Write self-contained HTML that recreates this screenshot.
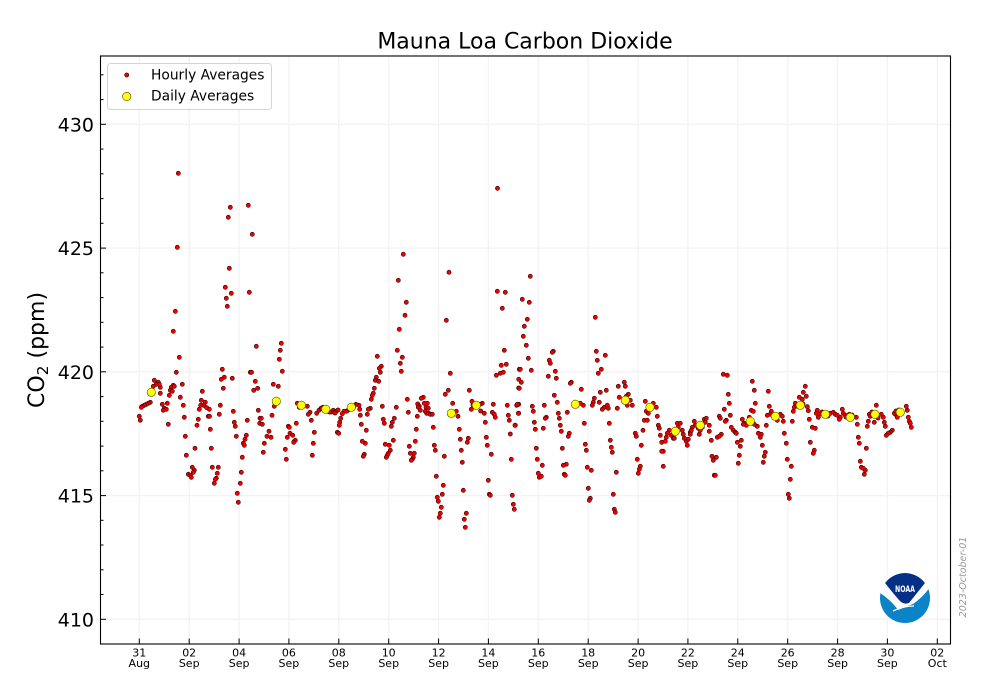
<!DOCTYPE html>
<html><head><meta charset="utf-8"><style>
html,body{margin:0;padding:0;background:#fff;}
svg{display:block;font-family:"DejaVu Sans","Liberation Sans",sans-serif;}
</style></head><body>
<svg width="1000" height="700" viewBox="0 0 1000 700" xmlns="http://www.w3.org/2000/svg">
<rect width="1000" height="700" fill="#fff"/>
<!-- grid -->
<g stroke="#f3f3f3" stroke-width="1.3">
<line x1="139.3" y1="56" x2="139.3" y2="644"/><line x1="189.2" y1="56" x2="189.2" y2="644"/><line x1="239.1" y1="56" x2="239.1" y2="644"/><line x1="288.9" y1="56" x2="288.9" y2="644"/><line x1="338.8" y1="56" x2="338.8" y2="644"/><line x1="388.7" y1="56" x2="388.7" y2="644"/><line x1="438.6" y1="56" x2="438.6" y2="644"/><line x1="488.4" y1="56" x2="488.4" y2="644"/><line x1="538.3" y1="56" x2="538.3" y2="644"/><line x1="588.2" y1="56" x2="588.2" y2="644"/><line x1="638.1" y1="56" x2="638.1" y2="644"/><line x1="687.9" y1="56" x2="687.9" y2="644"/><line x1="737.8" y1="56" x2="737.8" y2="644"/><line x1="787.7" y1="56" x2="787.7" y2="644"/><line x1="837.6" y1="56" x2="837.6" y2="644"/><line x1="887.4" y1="56" x2="887.4" y2="644"/><line x1="937.3" y1="56" x2="937.3" y2="644"/>
<line x1="100" y1="619.3" x2="950" y2="619.3"/><line x1="100" y1="495.6" x2="950" y2="495.6"/><line x1="100" y1="371.8" x2="950" y2="371.8"/><line x1="100" y1="248.1" x2="950" y2="248.1"/><line x1="100" y1="124.3" x2="950" y2="124.3"/>
</g>
<!-- NOAA logo -->
<defs><clipPath id="lc"><circle cx="905" cy="598" r="25"/></clipPath></defs>
<g clip-path="url(#lc)">
<circle cx="905" cy="598" r="25" fill="#fff"/>
<path d="M879,592 Q892,601 898,610 Q905,607 913,604 Q922,598 931,586 L931,626 L879,626 Z" fill="#0a84c6"/>
<path d="M885,583 A25,25 0 0 1 925,583 Q917,593 909,603 Q903,605 899,600 Q892,592 885,583 Z" fill="#062f86"/>
<path d="M893,611 Q903,606 914,606" stroke="#fff" stroke-width="1.3" fill="none"/>
</g>
<text x="905" y="592" font-size="8.5" font-weight="bold" fill="#fff" text-anchor="middle" textLength="20" lengthAdjust="spacingAndGlyphs">NOAA</text>
<!-- hourly -->
<g fill="#ee0000" stroke="#3a0000" stroke-width="0.6">
<circle cx="178.3" cy="173.3" r="2.1"/><circle cx="230.3" cy="207.3" r="2.1"/><circle cx="248.3" cy="205.3" r="2.1"/><circle cx="228.3" cy="217.3" r="2.1"/><circle cx="252.3" cy="234.3" r="2.1"/><circle cx="177.3" cy="247.3" r="2.1"/><circle cx="229.3" cy="268.3" r="2.1"/><circle cx="225.3" cy="287.3" r="2.1"/><circle cx="231.3" cy="293.3" r="2.1"/><circle cx="249.3" cy="292.3" r="2.1"/><circle cx="226.3" cy="298.3" r="2.1"/><circle cx="227.3" cy="306.3" r="2.1"/><circle cx="175.3" cy="311.3" r="2.1"/><circle cx="173.3" cy="331.3" r="2.1"/><circle cx="256.3" cy="346.3" r="2.1"/><circle cx="281.3" cy="343.3" r="2.1"/><circle cx="280.3" cy="350.3" r="2.1"/><circle cx="279.3" cy="359.3" r="2.1"/><circle cx="179.3" cy="357.3" r="2.1"/><circle cx="282.3" cy="371.3" r="2.1"/><circle cx="176.3" cy="372.3" r="2.1"/><circle cx="222.3" cy="369.3" r="2.1"/><circle cx="250.3" cy="372.3" r="2.1"/><circle cx="251.5" cy="372.3" r="2.1"/><circle cx="224.3" cy="377.3" r="2.1"/><circle cx="221.3" cy="379.3" r="2.1"/><circle cx="232.3" cy="378.3" r="2.1"/><circle cx="255.3" cy="381.3" r="2.1"/><circle cx="154.3" cy="380.3" r="2.1"/><circle cx="158.3" cy="382.3" r="2.1"/><circle cx="156.3" cy="384.3" r="2.1"/><circle cx="153.3" cy="386.3" r="2.1"/><circle cx="160.3" cy="387.3" r="2.1"/><circle cx="159.3" cy="384.3" r="2.1"/><circle cx="173.3" cy="385.3" r="2.1"/><circle cx="171.3" cy="387.3" r="2.1"/><circle cx="170.3" cy="390.3" r="2.1"/><circle cx="172.3" cy="391.3" r="2.1"/><circle cx="174.3" cy="386.3" r="2.1"/><circle cx="182.3" cy="384.3" r="2.1"/><circle cx="160.3" cy="393.3" r="2.1"/><circle cx="169.3" cy="395.3" r="2.1"/><circle cx="180.3" cy="397.3" r="2.1"/><circle cx="202.3" cy="391.3" r="2.1"/><circle cx="223.3" cy="388.3" r="2.1"/><circle cx="257.7" cy="388.3" r="2.1"/><circle cx="253.7" cy="390.3" r="2.1"/><circle cx="273.3" cy="384.3" r="2.1"/><circle cx="278.3" cy="386.3" r="2.1"/><circle cx="150.3" cy="402.3" r="2.1"/><circle cx="148.3" cy="403.3" r="2.1"/><circle cx="146.3" cy="404.3" r="2.1"/><circle cx="144.3" cy="405.3" r="2.1"/><circle cx="142.3" cy="406.3" r="2.1"/><circle cx="141.3" cy="407.3" r="2.1"/><circle cx="162.3" cy="404.3" r="2.1"/><circle cx="167.3" cy="403.3" r="2.1"/><circle cx="164.3" cy="408.3" r="2.1"/><circle cx="166.3" cy="409.3" r="2.1"/><circle cx="163.3" cy="410.3" r="2.1"/><circle cx="183.3" cy="405.3" r="2.1"/><circle cx="201.3" cy="400.3" r="2.1"/><circle cx="205.3" cy="402.3" r="2.1"/><circle cx="203.7" cy="405.3" r="2.1"/><circle cx="200.7" cy="405.3" r="2.1"/><circle cx="206.7" cy="407.7" r="2.1"/><circle cx="209.3" cy="409.3" r="2.1"/><circle cx="199.3" cy="409.3" r="2.1"/><circle cx="220.3" cy="405.3" r="2.1"/><circle cx="233.3" cy="411.3" r="2.1"/><circle cx="219.3" cy="414.3" r="2.1"/><circle cx="208.3" cy="416.3" r="2.1"/><circle cx="209.5" cy="416.3" r="2.1"/><circle cx="258.3" cy="410.3" r="2.1"/><circle cx="272" cy="415.3" r="2.1"/><circle cx="274.3" cy="406.3" r="2.1"/><circle cx="297.3" cy="403.3" r="2.1"/><circle cx="301.3" cy="404.3" r="2.1"/><circle cx="307.3" cy="406.3" r="2.1"/><circle cx="299.3" cy="407.3" r="2.1"/><circle cx="310" cy="412.3" r="2.1"/><circle cx="308.3" cy="414.3" r="2.1"/><circle cx="316.7" cy="413.3" r="2.1"/><circle cx="319" cy="410.3" r="2.1"/><circle cx="321" cy="408.3" r="2.1"/><circle cx="323" cy="407.3" r="2.1"/><circle cx="139.3" cy="416.3" r="2.1"/><circle cx="140.3" cy="420.3" r="2.1"/><circle cx="184.3" cy="417.3" r="2.1"/><circle cx="198.3" cy="419.3" r="2.1"/><circle cx="168.3" cy="424.3" r="2.1"/><circle cx="197" cy="425.3" r="2.1"/><circle cx="210.3" cy="429.3" r="2.1"/><circle cx="234.3" cy="422.3" r="2.1"/><circle cx="235.3" cy="426.3" r="2.1"/><circle cx="247.3" cy="420.3" r="2.1"/><circle cx="260" cy="418.3" r="2.1"/><circle cx="261.3" cy="418.3" r="2.1"/><circle cx="259.7" cy="423.3" r="2.1"/><circle cx="262.3" cy="424.3" r="2.1"/><circle cx="296.3" cy="423.3" r="2.1"/><circle cx="288.3" cy="426.3" r="2.1"/><circle cx="289.3" cy="427.3" r="2.1"/><circle cx="311.3" cy="420.3" r="2.1"/><circle cx="314.3" cy="432.3" r="2.1"/><circle cx="185.3" cy="436.3" r="2.1"/><circle cx="236.3" cy="436.3" r="2.1"/><circle cx="246.3" cy="435.3" r="2.1"/><circle cx="245" cy="439.3" r="2.1"/><circle cx="243.3" cy="443.3" r="2.1"/><circle cx="244.3" cy="445.3" r="2.1"/><circle cx="269" cy="431.3" r="2.1"/><circle cx="267" cy="436.3" r="2.1"/><circle cx="271" cy="437.3" r="2.1"/><circle cx="264.3" cy="443.3" r="2.1"/><circle cx="290" cy="433.3" r="2.1"/><circle cx="287.3" cy="437.3" r="2.1"/><circle cx="292.7" cy="435.3" r="2.1"/><circle cx="294.3" cy="441.3" r="2.1"/><circle cx="295.3" cy="440.3" r="2.1"/><circle cx="293.7" cy="442.3" r="2.1"/><circle cx="313.3" cy="443.3" r="2.1"/><circle cx="195" cy="448.3" r="2.1"/><circle cx="211.3" cy="448.3" r="2.1"/><circle cx="285.3" cy="449.3" r="2.1"/><circle cx="263.3" cy="452.3" r="2.1"/><circle cx="186.3" cy="455.3" r="2.1"/><circle cx="242.3" cy="457.3" r="2.1"/><circle cx="312.3" cy="455.3" r="2.1"/><circle cx="286.3" cy="459.3" r="2.1"/><circle cx="192.3" cy="467.3" r="2.1"/><circle cx="194.3" cy="470.3" r="2.1"/><circle cx="212.3" cy="467.3" r="2.1"/><circle cx="218.3" cy="467.3" r="2.1"/><circle cx="188.3" cy="474.3" r="2.1"/><circle cx="190.3" cy="475.3" r="2.1"/><circle cx="193.3" cy="472.3" r="2.1"/><circle cx="191.3" cy="477.3" r="2.1"/><circle cx="217.3" cy="473.3" r="2.1"/><circle cx="216.3" cy="478.3" r="2.1"/><circle cx="215.3" cy="479.3" r="2.1"/><circle cx="214.3" cy="483.3" r="2.1"/><circle cx="241.3" cy="472.3" r="2.1"/><circle cx="240.3" cy="483.3" r="2.1"/><circle cx="237.3" cy="493.3" r="2.1"/><circle cx="238.3" cy="502.3" r="2.1"/>
<circle cx="403.3" cy="254.3" r="2.1"/><circle cx="449" cy="272.3" r="2.1"/><circle cx="398.3" cy="280.3" r="2.1"/><circle cx="497.3" cy="291.3" r="2.1"/><circle cx="505.3" cy="292.3" r="2.1"/><circle cx="502.3" cy="308.3" r="2.1"/><circle cx="406.3" cy="302.3" r="2.1"/><circle cx="405" cy="315.3" r="2.1"/><circle cx="446.3" cy="320.3" r="2.1"/><circle cx="399.3" cy="329.3" r="2.1"/><circle cx="397.3" cy="350.3" r="2.1"/><circle cx="504.3" cy="350.3" r="2.1"/><circle cx="377.3" cy="356.3" r="2.1"/><circle cx="402.3" cy="357.3" r="2.1"/><circle cx="400.3" cy="363.3" r="2.1"/><circle cx="381.3" cy="366.3" r="2.1"/><circle cx="379.3" cy="368.3" r="2.1"/><circle cx="401.3" cy="371.3" r="2.1"/><circle cx="380.3" cy="372.3" r="2.1"/><circle cx="501.3" cy="365.3" r="2.1"/><circle cx="506.3" cy="364.3" r="2.1"/><circle cx="500.3" cy="373.3" r="2.1"/><circle cx="503.3" cy="372.3" r="2.1"/><circle cx="496.3" cy="375.3" r="2.1"/><circle cx="519.3" cy="369.3" r="2.1"/><circle cx="450.3" cy="373.3" r="2.1"/><circle cx="376.3" cy="377.3" r="2.1"/><circle cx="375.3" cy="380.3" r="2.1"/><circle cx="378.7" cy="381.3" r="2.1"/><circle cx="518.7" cy="379.3" r="2.1"/><circle cx="374.3" cy="388.3" r="2.1"/><circle cx="373.3" cy="393.3" r="2.1"/><circle cx="372.3" cy="395.3" r="2.1"/><circle cx="371.3" cy="399.3" r="2.1"/><circle cx="448.3" cy="390.3" r="2.1"/><circle cx="445.3" cy="394.3" r="2.1"/><circle cx="469.3" cy="390.3" r="2.1"/><circle cx="518.7" cy="388" r="2.1"/><circle cx="423.3" cy="397.3" r="2.1"/><circle cx="421.3" cy="398.3" r="2.1"/><circle cx="407.3" cy="399.3" r="2.1"/><circle cx="452.7" cy="403.3" r="2.1"/><circle cx="472" cy="401.3" r="2.1"/><circle cx="473" cy="405" r="2.1"/><circle cx="482.3" cy="403.3" r="2.1"/><circle cx="480" cy="404.3" r="2.1"/><circle cx="493.3" cy="404.3" r="2.1"/><circle cx="507.3" cy="405.3" r="2.1"/><circle cx="516.7" cy="405.3" r="2.1"/><circle cx="518.7" cy="404.3" r="2.1"/><circle cx="359" cy="405.3" r="2.1"/><circle cx="356" cy="404.3" r="2.1"/><circle cx="354" cy="406.3" r="2.1"/><circle cx="321.7" cy="408.3" r="2.1"/><circle cx="324" cy="409" r="2.1"/><circle cx="327" cy="411" r="2.1"/><circle cx="333.3" cy="410.3" r="2.1"/><circle cx="336.3" cy="411.3" r="2.1"/><circle cx="331.3" cy="412" r="2.1"/><circle cx="329.3" cy="412" r="2.1"/><circle cx="335" cy="413" r="2.1"/><circle cx="338" cy="410" r="2.1"/><circle cx="348" cy="410.3" r="2.1"/><circle cx="346.3" cy="411.3" r="2.1"/><circle cx="344" cy="411.3" r="2.1"/><circle cx="342.3" cy="413.7" r="2.1"/><circle cx="350" cy="409" r="2.1"/><circle cx="352" cy="406" r="2.1"/><circle cx="382.3" cy="406.3" r="2.1"/><circle cx="396.3" cy="407.3" r="2.1"/><circle cx="370.3" cy="408.3" r="2.1"/><circle cx="368.3" cy="409.3" r="2.1"/><circle cx="359.7" cy="409.3" r="2.1"/><circle cx="360.3" cy="415.3" r="2.1"/><circle cx="367.3" cy="414.3" r="2.1"/><circle cx="417.7" cy="404" r="2.1"/><circle cx="419.3" cy="406.3" r="2.1"/><circle cx="418.3" cy="407.3" r="2.1"/><circle cx="424.3" cy="403.3" r="2.1"/><circle cx="427.3" cy="403.3" r="2.1"/><circle cx="426" cy="407.3" r="2.1"/><circle cx="428.3" cy="408.3" r="2.1"/><circle cx="420.3" cy="410.3" r="2.1"/><circle cx="425.3" cy="411.3" r="2.1"/><circle cx="426.7" cy="413.3" r="2.1"/><circle cx="428.7" cy="413.3" r="2.1"/><circle cx="430.3" cy="414.3" r="2.1"/><circle cx="432.3" cy="414.3" r="2.1"/><circle cx="408.3" cy="412.3" r="2.1"/><circle cx="417.3" cy="416.3" r="2.1"/><circle cx="456.3" cy="411.3" r="2.1"/><circle cx="458" cy="416.3" r="2.1"/><circle cx="471.3" cy="409.3" r="2.1"/><circle cx="480.7" cy="411" r="2.1"/><circle cx="484.3" cy="413.3" r="2.1"/><circle cx="492.3" cy="412.3" r="2.1"/><circle cx="494.3" cy="414.3" r="2.1"/><circle cx="495.3" cy="417.3" r="2.1"/><circle cx="508.3" cy="415.3" r="2.1"/><circle cx="509.3" cy="420.3" r="2.1"/><circle cx="518.7" cy="413.3" r="2.1"/><circle cx="340.7" cy="418.3" r="2.1"/><circle cx="339.7" cy="422.3" r="2.1"/><circle cx="339.3" cy="425.3" r="2.1"/><circle cx="361.3" cy="424.3" r="2.1"/><circle cx="383.3" cy="419.3" r="2.1"/><circle cx="384.3" cy="423.3" r="2.1"/><circle cx="394.3" cy="418.3" r="2.1"/><circle cx="392.3" cy="422.3" r="2.1"/><circle cx="391.3" cy="426.3" r="2.1"/><circle cx="485.3" cy="422.3" r="2.1"/><circle cx="515.3" cy="425.3" r="2.1"/><circle cx="433.3" cy="427.3" r="2.1"/><circle cx="416.3" cy="429.3" r="2.1"/><circle cx="459.3" cy="429.3" r="2.1"/><circle cx="366.3" cy="430.3" r="2.1"/><circle cx="337.3" cy="432.3" r="2.1"/><circle cx="338.7" cy="433.3" r="2.1"/><circle cx="510.3" cy="434" r="2.1"/><circle cx="486.3" cy="437.3" r="2.1"/><circle cx="460.3" cy="439.3" r="2.1"/><circle cx="468.3" cy="438.3" r="2.1"/><circle cx="467.3" cy="442.3" r="2.1"/><circle cx="362.3" cy="441.3" r="2.1"/><circle cx="365.3" cy="443.3" r="2.1"/><circle cx="393.3" cy="440.3" r="2.1"/><circle cx="415.3" cy="441.3" r="2.1"/><circle cx="385.3" cy="444.3" r="2.1"/><circle cx="389.3" cy="445.3" r="2.1"/><circle cx="487.3" cy="445.3" r="2.1"/><circle cx="409.3" cy="446.3" r="2.1"/><circle cx="434.3" cy="445.3" r="2.1"/><circle cx="435.3" cy="450.3" r="2.1"/><circle cx="461.3" cy="450.3" r="2.1"/><circle cx="390.3" cy="450.3" r="2.1"/><circle cx="388.3" cy="453.3" r="2.1"/><circle cx="387.3" cy="455.3" r="2.1"/><circle cx="386.3" cy="457.3" r="2.1"/><circle cx="364.3" cy="454.3" r="2.1"/><circle cx="363.3" cy="456.3" r="2.1"/><circle cx="410.3" cy="453.3" r="2.1"/><circle cx="414.3" cy="453.3" r="2.1"/><circle cx="413.3" cy="457.3" r="2.1"/><circle cx="412.3" cy="459.3" r="2.1"/><circle cx="411.3" cy="460.3" r="2.1"/><circle cx="444.3" cy="456.3" r="2.1"/><circle cx="491.3" cy="454.3" r="2.1"/><circle cx="462.3" cy="462.3" r="2.1"/><circle cx="511.3" cy="459.3" r="2.1"/><circle cx="436.3" cy="476.3" r="2.1"/><circle cx="488.3" cy="480.3" r="2.1"/><circle cx="443.3" cy="485.3" r="2.1"/><circle cx="463.3" cy="490.3" r="2.1"/><circle cx="437.3" cy="497.3" r="2.1"/><circle cx="442.3" cy="494.3" r="2.1"/><circle cx="438.3" cy="501.3" r="2.1"/><circle cx="489.3" cy="494.3" r="2.1"/><circle cx="490.3" cy="495.3" r="2.1"/><circle cx="512.3" cy="495.3" r="2.1"/><circle cx="513.3" cy="504.3" r="2.1"/><circle cx="514.3" cy="509.3" r="2.1"/><circle cx="441.3" cy="507.3" r="2.1"/><circle cx="440.3" cy="513.3" r="2.1"/><circle cx="439.3" cy="517.3" r="2.1"/><circle cx="466.3" cy="513.3" r="2.1"/><circle cx="464.3" cy="519.3" r="2.1"/><circle cx="465.3" cy="527.3" r="2.1"/><circle cx="497.5" cy="188.3" r="2.1"/>
<circle cx="530.3" cy="276.3" r="2.1"/><circle cx="522.3" cy="299.3" r="2.1"/><circle cx="529.3" cy="302.3" r="2.1"/><circle cx="527.3" cy="319.3" r="2.1"/><circle cx="524.3" cy="326.3" r="2.1"/><circle cx="523.3" cy="336.3" r="2.1"/><circle cx="526.3" cy="345.3" r="2.1"/><circle cx="528.3" cy="358.3" r="2.1"/><circle cx="520.3" cy="369.3" r="2.1"/><circle cx="531.3" cy="370.3" r="2.1"/><circle cx="521.3" cy="382.3" r="2.1"/><circle cx="519.3" cy="388.3" r="2.1"/><circle cx="595.3" cy="317.3" r="2.1"/><circle cx="553.3" cy="351.3" r="2.1"/><circle cx="552.3" cy="352.3" r="2.1"/><circle cx="596.3" cy="351.3" r="2.1"/><circle cx="605.3" cy="355.3" r="2.1"/><circle cx="549.3" cy="360.3" r="2.1"/><circle cx="550.3" cy="363.3" r="2.1"/><circle cx="597.3" cy="360.3" r="2.1"/><circle cx="555.3" cy="371.3" r="2.1"/><circle cx="601.3" cy="369.3" r="2.1"/><circle cx="598.3" cy="373.3" r="2.1"/><circle cx="548.3" cy="376.3" r="2.1"/><circle cx="556.3" cy="378.3" r="2.1"/><circle cx="571.3" cy="382.3" r="2.1"/><circle cx="570.3" cy="383.3" r="2.1"/><circle cx="624.3" cy="382.3" r="2.1"/><circle cx="625.3" cy="386.3" r="2.1"/><circle cx="618.3" cy="386.3" r="2.1"/><circle cx="581.3" cy="389.3" r="2.1"/><circle cx="606.3" cy="390.3" r="2.1"/><circle cx="600.3" cy="392.3" r="2.1"/><circle cx="554.3" cy="395.3" r="2.1"/><circle cx="628.3" cy="394.3" r="2.1"/><circle cx="626.3" cy="396.3" r="2.1"/><circle cx="619.3" cy="397.3" r="2.1"/><circle cx="594.3" cy="398.3" r="2.1"/><circle cx="593.3" cy="402.3" r="2.1"/><circle cx="592.3" cy="405.3" r="2.1"/><circle cx="580.3" cy="403.3" r="2.1"/><circle cx="583.3" cy="405.3" r="2.1"/><circle cx="557.3" cy="402.3" r="2.1"/><circle cx="544.3" cy="405.3" r="2.1"/><circle cx="517.3" cy="404.3" r="2.1"/><circle cx="532.3" cy="406.3" r="2.1"/><circle cx="533.3" cy="411.3" r="2.1"/><circle cx="518.3" cy="413.3" r="2.1"/><circle cx="599.3" cy="402.3" r="2.1"/><circle cx="604.3" cy="407.3" r="2.1"/><circle cx="602.3" cy="409.3" r="2.1"/><circle cx="607.3" cy="405.3" r="2.1"/><circle cx="608.3" cy="408.3" r="2.1"/><circle cx="617.3" cy="408.3" r="2.1"/><circle cx="630.3" cy="400.3" r="2.1"/><circle cx="627.3" cy="405.3" r="2.1"/><circle cx="632.3" cy="405.3" r="2.1"/><circle cx="645.3" cy="401.3" r="2.1"/><circle cx="653.3" cy="403.3" r="2.1"/><circle cx="656.3" cy="407.3" r="2.1"/><circle cx="646.3" cy="411.3" r="2.1"/><circle cx="648.3" cy="413.3" r="2.1"/><circle cx="567.3" cy="412.3" r="2.1"/><circle cx="558.3" cy="413.3" r="2.1"/><circle cx="546.3" cy="417.3" r="2.1"/><circle cx="545.3" cy="418.3" r="2.1"/><circle cx="559.3" cy="418.3" r="2.1"/><circle cx="657.3" cy="416.3" r="2.1"/><circle cx="644.3" cy="420.3" r="2.1"/><circle cx="647.3" cy="420.3" r="2.1"/><circle cx="534.3" cy="422.3" r="2.1"/><circle cx="609.3" cy="423.3" r="2.1"/><circle cx="584.3" cy="423.3" r="2.1"/><circle cx="560.3" cy="425.3" r="2.1"/><circle cx="515" cy="425.3" r="2.1"/><circle cx="658.3" cy="425.3" r="2.1"/><circle cx="659.3" cy="428.3" r="2.1"/><circle cx="543.3" cy="428.3" r="2.1"/><circle cx="535.3" cy="429.3" r="2.1"/><circle cx="561.3" cy="431.3" r="2.1"/><circle cx="643" cy="430.3" r="2.1"/><circle cx="569.3" cy="433.3" r="2.1"/><circle cx="568.3" cy="436.3" r="2.1"/><circle cx="635.3" cy="433.3" r="2.1"/><circle cx="636.3" cy="436.3" r="2.1"/><circle cx="669.3" cy="430.3" r="2.1"/><circle cx="667.3" cy="433.3" r="2.1"/><circle cx="666.3" cy="437.3" r="2.1"/><circle cx="671.3" cy="435.3" r="2.1"/><circle cx="673.3" cy="438.3" r="2.1"/><circle cx="677.3" cy="423.3" r="2.1"/><circle cx="680.3" cy="423.3" r="2.1"/><circle cx="678.3" cy="427.3" r="2.1"/><circle cx="682.3" cy="430.3" r="2.1"/><circle cx="683.3" cy="434.3" r="2.1"/><circle cx="684.3" cy="438.3" r="2.1"/><circle cx="686.3" cy="441.3" r="2.1"/><circle cx="687.3" cy="445.3" r="2.1"/><circle cx="688.3" cy="439.3" r="2.1"/><circle cx="690.3" cy="432.3" r="2.1"/><circle cx="660.3" cy="435.3" r="2.1"/><circle cx="661.7" cy="442.3" r="2.1"/><circle cx="663.3" cy="451.3" r="2.1"/><circle cx="661.7" cy="451.3" r="2.1"/><circle cx="665.3" cy="441.3" r="2.1"/><circle cx="674.3" cy="438.3" r="2.1"/><circle cx="694.3" cy="421.3" r="2.1"/><circle cx="695.3" cy="425.3" r="2.1"/><circle cx="692.3" cy="427.3" r="2.1"/><circle cx="691.3" cy="430.3" r="2.1"/><circle cx="690.3" cy="434.3" r="2.1"/><circle cx="698.3" cy="428.3" r="2.1"/><circle cx="700.3" cy="430.3" r="2.1"/><circle cx="699.3" cy="434.3" r="2.1"/><circle cx="702.3" cy="427.3" r="2.1"/><circle cx="704.3" cy="419.3" r="2.1"/><circle cx="706.3" cy="418.3" r="2.1"/><circle cx="705.3" cy="422.3" r="2.1"/><circle cx="709.3" cy="425.3" r="2.1"/><circle cx="709.3" cy="431.3" r="2.1"/><circle cx="711.3" cy="440.3" r="2.1"/><circle cx="641.3" cy="445.3" r="2.1"/><circle cx="610.3" cy="440.3" r="2.1"/><circle cx="611.3" cy="447.3" r="2.1"/><circle cx="612.3" cy="452.3" r="2.1"/><circle cx="585.3" cy="444.3" r="2.1"/><circle cx="586.3" cy="450.3" r="2.1"/><circle cx="562.3" cy="448.3" r="2.1"/><circle cx="536.3" cy="448.3" r="2.1"/><circle cx="637.3" cy="459.3" r="2.1"/><circle cx="640.3" cy="466.3" r="2.1"/><circle cx="639.3" cy="469.3" r="2.1"/><circle cx="638.3" cy="473.3" r="2.1"/><circle cx="537.3" cy="459.3" r="2.1"/><circle cx="542.3" cy="465.3" r="2.1"/><circle cx="566.3" cy="464.3" r="2.1"/><circle cx="563.3" cy="465.3" r="2.1"/><circle cx="587.3" cy="467.3" r="2.1"/><circle cx="591.3" cy="470.3" r="2.1"/><circle cx="663.3" cy="466.3" r="2.1"/><circle cx="712" cy="456.3" r="2.1"/><circle cx="713.3" cy="460.3" r="2.1"/><circle cx="616.3" cy="472.3" r="2.1"/><circle cx="538.3" cy="473.3" r="2.1"/><circle cx="539.3" cy="477.3" r="2.1"/><circle cx="541.3" cy="476.3" r="2.1"/><circle cx="564.3" cy="474.3" r="2.1"/><circle cx="565.3" cy="475.3" r="2.1"/><circle cx="714.3" cy="475.3" r="2.1"/><circle cx="588.3" cy="488.3" r="2.1"/><circle cx="613.3" cy="494.3" r="2.1"/><circle cx="590.3" cy="498.3" r="2.1"/><circle cx="589.3" cy="500.3" r="2.1"/><circle cx="614.3" cy="509.3" r="2.1"/><circle cx="615.3" cy="512.3" r="2.1"/>
<circle cx="723.3" cy="374.3" r="2.1"/><circle cx="727.3" cy="375.3" r="2.1"/><circle cx="752.3" cy="381.3" r="2.1"/><circle cx="754.3" cy="390.3" r="2.1"/><circle cx="768.3" cy="391.3" r="2.1"/><circle cx="805.3" cy="386.3" r="2.1"/><circle cx="803.3" cy="392.3" r="2.1"/><circle cx="799.3" cy="397.3" r="2.1"/><circle cx="806.3" cy="396.3" r="2.1"/><circle cx="802.3" cy="399.3" r="2.1"/><circle cx="728.3" cy="394.3" r="2.1"/><circle cx="729.3" cy="403.3" r="2.1"/><circle cx="755.3" cy="403.3" r="2.1"/><circle cx="795.3" cy="403.3" r="2.1"/><circle cx="794.3" cy="407.3" r="2.1"/><circle cx="793.3" cy="411.3" r="2.1"/><circle cx="797" cy="406" r="2.1"/><circle cx="803" cy="404" r="2.1"/><circle cx="807.3" cy="406.7" r="2.1"/><circle cx="808.3" cy="410.7" r="2.1"/><circle cx="769.3" cy="406.3" r="2.1"/><circle cx="771.3" cy="411.3" r="2.1"/><circle cx="770.3" cy="414.3" r="2.1"/><circle cx="724.3" cy="409.3" r="2.1"/><circle cx="751.3" cy="410.3" r="2.1"/><circle cx="753.3" cy="411.3" r="2.1"/><circle cx="730.3" cy="415.3" r="2.1"/><circle cx="719.3" cy="416.3" r="2.1"/><circle cx="720.3" cy="418.3" r="2.1"/><circle cx="726.3" cy="420.3" r="2.1"/><circle cx="725.3" cy="421.3" r="2.1"/><circle cx="780.3" cy="414.3" r="2.1"/><circle cx="782.3" cy="416.3" r="2.1"/><circle cx="783.3" cy="421.3" r="2.1"/><circle cx="777.3" cy="420.3" r="2.1"/><circle cx="767.3" cy="415.3" r="2.1"/><circle cx="749.3" cy="417.3" r="2.1"/><circle cx="742.3" cy="419.3" r="2.1"/><circle cx="744.3" cy="423.3" r="2.1"/><circle cx="746.3" cy="425.3" r="2.1"/><circle cx="743.3" cy="424.3" r="2.1"/><circle cx="757.3" cy="426.3" r="2.1"/><circle cx="754.3" cy="424.3" r="2.1"/><circle cx="766.3" cy="425.3" r="2.1"/><circle cx="792.3" cy="421.3" r="2.1"/><circle cx="809.3" cy="419.3" r="2.1"/><circle cx="817.3" cy="410.3" r="2.1"/><circle cx="816.3" cy="413.3" r="2.1"/><circle cx="819.3" cy="414.3" r="2.1"/><circle cx="818.3" cy="417.3" r="2.1"/><circle cx="822" cy="412" r="2.1"/><circle cx="827" cy="413" r="2.1"/><circle cx="828" cy="416" r="2.1"/><circle cx="830.3" cy="413.3" r="2.1"/><circle cx="833.3" cy="412.3" r="2.1"/><circle cx="835.3" cy="414.3" r="2.1"/><circle cx="837.3" cy="415.3" r="2.1"/><circle cx="842.3" cy="409.3" r="2.1"/><circle cx="843.3" cy="413.3" r="2.1"/><circle cx="845.3" cy="415.3" r="2.1"/><circle cx="846" cy="417" r="2.1"/><circle cx="840.3" cy="417.3" r="2.1"/><circle cx="839.3" cy="419.3" r="2.1"/><circle cx="849.3" cy="414.3" r="2.1"/><circle cx="852" cy="415" r="2.1"/><circle cx="856.3" cy="417.3" r="2.1"/><circle cx="857.3" cy="424.3" r="2.1"/><circle cx="876.3" cy="405.3" r="2.1"/><circle cx="869.3" cy="414.3" r="2.1"/><circle cx="868.3" cy="421.3" r="2.1"/><circle cx="867.3" cy="426.3" r="2.1"/><circle cx="874.3" cy="422.3" r="2.1"/><circle cx="870.3" cy="416.3" r="2.1"/><circle cx="872" cy="412" r="2.1"/><circle cx="878" cy="418" r="2.1"/><circle cx="881.3" cy="414.3" r="2.1"/><circle cx="883.3" cy="417.3" r="2.1"/><circle cx="884.3" cy="422.3" r="2.1"/><circle cx="885.3" cy="426.3" r="2.1"/><circle cx="906.3" cy="406.3" r="2.1"/><circle cx="907.3" cy="410.3" r="2.1"/><circle cx="895.3" cy="414.3" r="2.1"/><circle cx="897.3" cy="417.3" r="2.1"/><circle cx="894.3" cy="413.3" r="2.1"/><circle cx="896" cy="411" r="2.1"/><circle cx="899" cy="410" r="2.1"/><circle cx="902" cy="413" r="2.1"/><circle cx="908.3" cy="417.3" r="2.1"/><circle cx="909.3" cy="421.3" r="2.1"/><circle cx="910.3" cy="423.3" r="2.1"/><circle cx="911.3" cy="427.3" r="2.1"/><circle cx="892.3" cy="430.3" r="2.1"/><circle cx="890.3" cy="432.3" r="2.1"/><circle cx="888.3" cy="433.3" r="2.1"/><circle cx="886.3" cy="435.3" r="2.1"/><circle cx="812.3" cy="427.3" r="2.1"/><circle cx="815.3" cy="428.3" r="2.1"/><circle cx="731.3" cy="427.3" r="2.1"/><circle cx="733.3" cy="430.3" r="2.1"/><circle cx="735.3" cy="432.3" r="2.1"/><circle cx="736.3" cy="433.3" r="2.1"/><circle cx="721.3" cy="434.3" r="2.1"/><circle cx="717.3" cy="437.3" r="2.1"/><circle cx="719.3" cy="436.3" r="2.1"/><circle cx="758.3" cy="433.3" r="2.1"/><circle cx="761.3" cy="434.3" r="2.1"/><circle cx="760.3" cy="437.3" r="2.1"/><circle cx="784.3" cy="433.3" r="2.1"/><circle cx="858.3" cy="437.3" r="2.1"/><circle cx="859.3" cy="443.3" r="2.1"/><circle cx="737.3" cy="442.3" r="2.1"/><circle cx="741.3" cy="440.3" r="2.1"/><circle cx="740.3" cy="446.3" r="2.1"/><circle cx="762.3" cy="445.3" r="2.1"/><circle cx="786.3" cy="443.3" r="2.1"/><circle cx="810.3" cy="442.3" r="2.1"/><circle cx="866.3" cy="448.3" r="2.1"/><circle cx="765.3" cy="452.3" r="2.1"/><circle cx="764.3" cy="456.3" r="2.1"/><circle cx="814.3" cy="450.3" r="2.1"/><circle cx="813.3" cy="453.3" r="2.1"/><circle cx="739.3" cy="455.3" r="2.1"/><circle cx="716.3" cy="457.3" r="2.1"/><circle cx="787.3" cy="459.3" r="2.1"/><circle cx="763.3" cy="462.3" r="2.1"/><circle cx="738.3" cy="463.3" r="2.1"/><circle cx="860.3" cy="461.3" r="2.1"/><circle cx="791.3" cy="466.3" r="2.1"/><circle cx="861.3" cy="467.3" r="2.1"/><circle cx="865.3" cy="470.3" r="2.1"/><circle cx="863.3" cy="468.3" r="2.1"/><circle cx="864.3" cy="474.3" r="2.1"/><circle cx="715.3" cy="475.3" r="2.1"/><circle cx="790.3" cy="479.3" r="2.1"/><circle cx="788.3" cy="494.3" r="2.1"/><circle cx="789.3" cy="498.3" r="2.1"/>
</g>
<!-- daily -->
<g fill="#ffff00" stroke="#4a4a00" stroke-width="0.6">
<circle cx="151.3" cy="392.3" r="4.2"/><circle cx="276.3" cy="401.3" r="4.2"/><circle cx="301.3" cy="405.3" r="4.2"/><circle cx="325.7" cy="409.3" r="4.2"/><circle cx="351.3" cy="407.3" r="4.2"/><circle cx="451.3" cy="413.3" r="4.2"/><circle cx="476.3" cy="405.3" r="4.2"/><circle cx="575.3" cy="404.3" r="4.2"/><circle cx="625.3" cy="400.3" r="4.2"/><circle cx="650" cy="407.3" r="4.2"/><circle cx="675.3" cy="431.3" r="4.2"/><circle cx="700.3" cy="425.3" r="4.2"/><circle cx="750.3" cy="421.3" r="4.2"/><circle cx="775.3" cy="416.3" r="4.2"/><circle cx="800.3" cy="405.3" r="4.2"/><circle cx="825.3" cy="414.3" r="4.2"/><circle cx="850.3" cy="417.3" r="4.2"/><circle cx="875" cy="414.3" r="4.2"/><circle cx="900.3" cy="412.3" r="4.2"/>
</g>
<!-- axes -->
<rect x="100.5" y="56" width="850" height="588" fill="none" stroke="#000" stroke-width="1.1"/>
<g stroke="#000" stroke-width="1">
<line x1="139.3" y1="644" x2="139.3" y2="638.5"/><line x1="189.2" y1="644" x2="189.2" y2="638.5"/><line x1="239.1" y1="644" x2="239.1" y2="638.5"/><line x1="288.9" y1="644" x2="288.9" y2="638.5"/><line x1="338.8" y1="644" x2="338.8" y2="638.5"/><line x1="388.7" y1="644" x2="388.7" y2="638.5"/><line x1="438.6" y1="644" x2="438.6" y2="638.5"/><line x1="488.4" y1="644" x2="488.4" y2="638.5"/><line x1="538.3" y1="644" x2="538.3" y2="638.5"/><line x1="588.2" y1="644" x2="588.2" y2="638.5"/><line x1="638.1" y1="644" x2="638.1" y2="638.5"/><line x1="687.9" y1="644" x2="687.9" y2="638.5"/><line x1="737.8" y1="644" x2="737.8" y2="638.5"/><line x1="787.7" y1="644" x2="787.7" y2="638.5"/><line x1="837.6" y1="644" x2="837.6" y2="638.5"/><line x1="887.4" y1="644" x2="887.4" y2="638.5"/><line x1="937.3" y1="644" x2="937.3" y2="638.5"/>
<line x1="100.5" y1="619.3" x2="106" y2="619.3"/><line x1="100.5" y1="495.6" x2="106" y2="495.6"/><line x1="100.5" y1="371.8" x2="106" y2="371.8"/><line x1="100.5" y1="248.1" x2="106" y2="248.1"/><line x1="100.5" y1="124.3" x2="106" y2="124.3"/>
<line x1="100.5" y1="594.5" x2="103.5" y2="594.5"/><line x1="100.5" y1="569.8" x2="103.5" y2="569.8"/><line x1="100.5" y1="545" x2="103.5" y2="545"/><line x1="100.5" y1="520.3" x2="103.5" y2="520.3"/>
<line x1="100.5" y1="470.8" x2="103.5" y2="470.8"/><line x1="100.5" y1="446.1" x2="103.5" y2="446.1"/><line x1="100.5" y1="421.3" x2="103.5" y2="421.3"/><line x1="100.5" y1="396.6" x2="103.5" y2="396.6"/>
<line x1="100.5" y1="347.1" x2="103.5" y2="347.1"/><line x1="100.5" y1="322.3" x2="103.5" y2="322.3"/><line x1="100.5" y1="297.6" x2="103.5" y2="297.6"/><line x1="100.5" y1="272.8" x2="103.5" y2="272.8"/>
<line x1="100.5" y1="223.3" x2="103.5" y2="223.3"/><line x1="100.5" y1="198.6" x2="103.5" y2="198.6"/><line x1="100.5" y1="173.8" x2="103.5" y2="173.8"/><line x1="100.5" y1="149.1" x2="103.5" y2="149.1"/>
<line x1="100.5" y1="99.6" x2="103.5" y2="99.6"/><line x1="100.5" y1="74.8" x2="103.5" y2="74.8"/>
</g>
<!-- y tick labels -->
<g font-size="19" text-anchor="end" fill="#000">
<text x="94" y="626.3">410</text><text x="94" y="502.6">415</text><text x="94" y="378.8">420</text><text x="94" y="255.1">425</text><text x="94" y="131.3">430</text>
</g>
<!-- x tick labels -->
<g font-size="11" text-anchor="middle" fill="#000">
<text x="139.3" y="656.5">31</text><text x="139.3" y="667">Aug</text>
<text x="189.2" y="656.5">02</text><text x="189.2" y="667">Sep</text>
<text x="239.1" y="656.5">04</text><text x="239.1" y="667">Sep</text>
<text x="288.9" y="656.5">06</text><text x="288.9" y="667">Sep</text>
<text x="338.8" y="656.5">08</text><text x="338.8" y="667">Sep</text>
<text x="388.7" y="656.5">10</text><text x="388.7" y="667">Sep</text>
<text x="438.6" y="656.5">12</text><text x="438.6" y="667">Sep</text>
<text x="488.4" y="656.5">14</text><text x="488.4" y="667">Sep</text>
<text x="538.3" y="656.5">16</text><text x="538.3" y="667">Sep</text>
<text x="588.2" y="656.5">18</text><text x="588.2" y="667">Sep</text>
<text x="638.1" y="656.5">20</text><text x="638.1" y="667">Sep</text>
<text x="687.9" y="656.5">22</text><text x="687.9" y="667">Sep</text>
<text x="737.8" y="656.5">24</text><text x="737.8" y="667">Sep</text>
<text x="787.7" y="656.5">26</text><text x="787.7" y="667">Sep</text>
<text x="837.6" y="656.5">28</text><text x="837.6" y="667">Sep</text>
<text x="887.4" y="656.5">30</text><text x="887.4" y="667">Sep</text>
<text x="937.3" y="656.5">02</text><text x="937.3" y="667">Oct</text>
</g>
<!-- title -->
<text x="525" y="48.5" font-size="22" text-anchor="middle" fill="#000">Mauna Loa Carbon Dioxide</text>
<!-- y label -->
<text transform="translate(44,350) rotate(-90)" font-size="22" text-anchor="middle" fill="#000">CO<tspan font-size="15.5" dy="4">2</tspan><tspan dy="-4"> (ppm)</tspan></text>
<!-- date stamp -->
<text transform="translate(966,577) rotate(-90)" font-size="9.5" font-style="italic" text-anchor="middle" fill="#999">2023-October-01</text>
<!-- legend -->
<rect x="107.5" y="63.5" width="164" height="46" rx="3" fill="#fff" fill-opacity="0.85" stroke="#d4d4d4" stroke-width="1"/>
<circle cx="126.7" cy="75" r="2.1" fill="#ee0000" stroke="#3a0000" stroke-width="0.6"/>
<circle cx="126.7" cy="96.5" r="4.2" fill="#ffff00" stroke="#4a4a00" stroke-width="0.6"/>
<text x="151" y="79.5" font-size="13.8" fill="#000">Hourly Averages</text>
<text x="151" y="100.5" font-size="13.8" fill="#000">Daily Averages</text>
</svg>
</body></html>
